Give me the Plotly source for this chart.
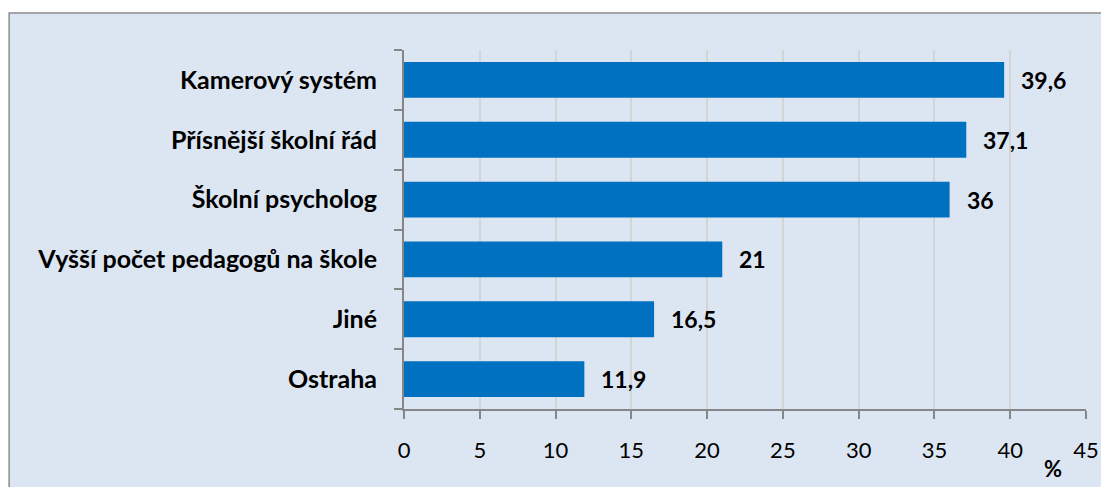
import plotly.graph_objects as go

# data
categories = ["Ostraha", "Jiné", "Vyšší počet pedagogů na škole",
              "Školní psycholog", "Přísnější školní řád", "Kamerový systém"]
values = [11.9, 16.5, 21, 36, 37.1, 39.6]
value_labels = ["11,9", "16,5", "21", "36", "37,1", "39,6"]
x_ticks = [0, 5, 10, 15, 20, 25, 30, 35, 40, 45]

font_name = "Lato"
bar_color = "#0070c0"
axis_color = "#868686"

fig = go.Figure()
fig.add_bar(x=values, y=categories, orientation="h",
            marker=dict(color=bar_color, line=dict(width=0)),
            hoverinfo="x+y")

# value labels next to bars
for v, c, t in zip(values, categories, value_labels):
    fig.add_annotation(x=v, y=c, text="<b>" + t + "</b>", showarrow=False,
                       xanchor="left", xshift=15,
                       font=dict(family=font_name, size=23, color="black"))

# axis title "%" placed near the end of the x axis
fig.add_annotation(x=0.952, y=-0.165, xref="paper", yref="paper", text="<b>%</b>",
                   showarrow=False, xanchor="center", yanchor="middle",
                   font=dict(family=font_name, size=22, color="black"))

# outer chart frame with light blue fill
fig.add_shape(type="rect", xref="paper", yref="paper",
              x0=-0.579, x1=1.2, y0=-0.4, y1=1.103,
              fillcolor="#dce6f2", line=dict(color="#8c8c8c", width=1.5),
              layer="below")

fig.update_layout(
    width=1101, height=487,
    margin=dict(l=404, r=15, t=50, b=78),
    paper_bgcolor="white",
    plot_bgcolor="white",
    bargap=0.4,
    showlegend=False,
    font=dict(family=font_name, size=22, color="black"),
    xaxis=dict(range=[0, 45], tickvals=x_ticks, showgrid=True,
               gridcolor="#d4d4d4", gridwidth=1.5,
               showline=True, linecolor=axis_color, linewidth=2,
               ticks="outside", ticklen=8, tickcolor=axis_color, tickwidth=2,
               ticklabelstandoff=13, zeroline=False, automargin=False,
               tickfont=dict(family=font_name, size=22)),
    yaxis=dict(showline=True, linecolor=axis_color, linewidth=2,
               ticks="outside", ticklen=8, tickcolor=axis_color, tickwidth=2,
               tickson="boundaries", showgrid=False, ticklabelstandoff=20,
               automargin=False,
               tickfont=dict(family=font_name, size=25, weight="bold")),
)

# drop the default page margin so the figure sits at the window corner
fig.write_html("out.html", config={"displayModeBar": False},
               post_script="document.body.style.margin='0';"
                           "document.body.style.overflow='hidden';")
